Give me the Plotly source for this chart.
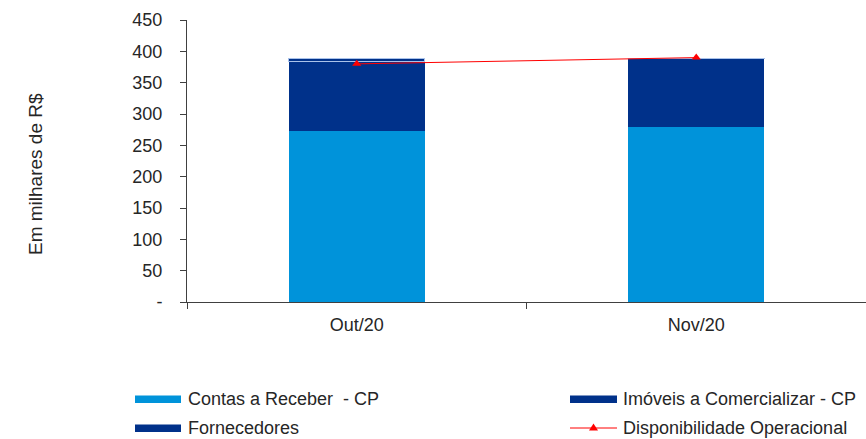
import plotly.graph_objects as go

# Data (R$ thousands)
categories = ["Out/20", "Nov/20"]
contas_receber = [273, 279]
imoveis_comercializar = [111, 109]
fornecedores = [4, 1]
disponibilidade = [380, 390]
y_ticks = [0, 50, 100, 150, 200, 250, 300, 350, 400, 450]
y_ticktext = ["-" if v == 0 else str(v) for v in y_ticks]

LIGHT = "#0093DA"
NAVY = "#00318A"
RED = "#FF0000"
TXT = "#262626"
AXIS = "#404040"
FONT = "Liberation Sans, Arial, sans-serif"

W, H = 866, 439
L, R, T, B = 187, 0, 20, 137
PW, PH = W - L - R, H - T - B

xpos = list(range(len(categories)))

fig = go.Figure()
fig.add_bar(x=xpos, y=contas_receber, name="Contas a Receber  - CP",
            marker=dict(color=LIGHT, line=dict(width=0)), width=0.4)
fig.add_bar(x=xpos, y=imoveis_comercializar, name="Imóveis a Comercializar - CP",
            marker=dict(color=NAVY, line=dict(width=0)), width=0.4)
fig.add_bar(x=xpos, y=fornecedores, name="Fornecedores",
            marker=dict(color=NAVY, line=dict(width=1, color="#A9C2EA")), width=0.4)
fig.add_scatter(x=xpos, y=disponibilidade, name="Disponibilidade Operacional",
                mode="lines+markers",
                line=dict(color=RED, width=1),
                marker=dict(symbol="triangle-up", size=8, color=RED))


def px_x(p):
    return (p - L) / PW


def px_y(p):
    return (H - B - p) / PH


shapes = []
annotations = []

# legend drawn as paper-anchored swatches and labels
legend_items = [
    ("Contas a Receber  - CP", "bar", LIGHT, 135, 181, 186, 399),
    ("Imóveis a Comercializar - CP", "bar", NAVY, 570, 617, 621, 399),
    ("Fornecedores", "bar", NAVY, 135, 181, 186, 428),
    ("Disponibilidade Operacional", "line", RED, 570, 617, 621, 428),
]
for label, kind, color, x0, x1, tx, cy in legend_items:
    if kind == "bar":
        shapes.append(dict(type="rect", xref="paper", yref="paper",
                           x0=px_x(x0), x1=px_x(x1), y0=px_y(cy + 4), y1=px_y(cy - 3.5),
                           fillcolor=color, line=dict(width=0)))
    else:
        shapes.append(dict(type="line", xref="paper", yref="paper",
                           x0=px_x(x0), x1=px_x(x1), y0=px_y(cy), y1=px_y(cy),
                           line=dict(color=color, width=1)))
        mx = (x0 + x1) / 2
        shapes.append(dict(type="path", xref="paper", yref="paper",
                           path="M {} {} L {} {} L {} {} Z".format(
                               px_x(mx - 4.5), px_y(cy + 2.5),
                               px_x(mx + 4.5), px_y(cy + 2.5),
                               px_x(mx), px_y(cy - 4.5)),
                           fillcolor=color, line=dict(width=0)))
    annotations.append(dict(text=label, xref="paper", yref="paper",
                            x=px_x(tx), y=px_y(cy), xanchor="left", yanchor="middle",
                            showarrow=False, font=dict(size=18, color=TXT, family=FONT)))

# vertical axis title
annotations.append(dict(text="Em milhares de R$", xref="paper", yref="paper",
                        x=px_x(35), y=px_y(174), textangle=-90,
                        xanchor="center", yanchor="middle", showarrow=False,
                        font=dict(size=19, color=TXT, family=FONT)))

fig.update_layout(
    width=W, height=H,
    margin=dict(l=L, r=R, t=T, b=B),
    paper_bgcolor="white", plot_bgcolor="white",
    barmode="stack",
    showlegend=False,
    font=dict(family=FONT, size=18, color=TXT),
    shapes=shapes,
    annotations=annotations,
    xaxis=dict(range=[-0.5, 1.5], tickvals=xpos, ticktext=categories,
               ticks="", showgrid=False, zeroline=False,
               showline=True, linecolor=AXIS, linewidth=1,
               ticklabelstandoff=6,
               tickfont=dict(size=18, color=TXT),
               minor=dict(tickmode="array", tickvals=[-0.5, 0.5, 1.5], ticks="outside",
                          ticklen=6, tickcolor=AXIS, tickwidth=1, showgrid=False)),
    yaxis=dict(range=[0, 450], tickvals=y_ticks, ticktext=y_ticktext,
               ticks="outside", ticklen=6, tickcolor=AXIS,
               showgrid=False, zeroline=False,
               showline=True, linecolor=AXIS, linewidth=1,
               ticklabelstandoff=14,
               tickfont=dict(size=18, color=TXT)),
)

fig.write_html("out.html")
